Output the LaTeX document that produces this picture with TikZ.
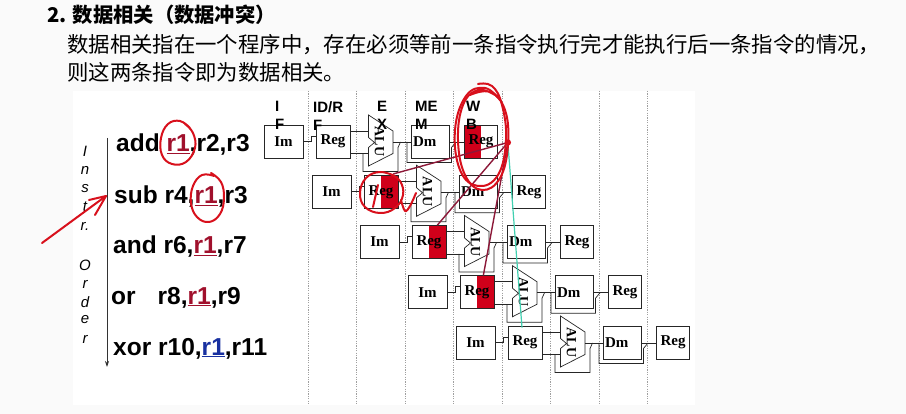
\documentclass[tikz,border=0pt]{standalone}
\usepackage{fontspec}
\setmainfont{Liberation Serif}
\newfontfamily\arial{Liberation Sans}
\newfontfamily\cjk{Noto Sans CJK SC}
\usetikzlibrary{calc,arrows.meta}
\definecolor{maroon}{HTML}{8C1838}
\definecolor{pen}{HTML}{D8101C}
\definecolor{regred}{HTML}{D0001A}
\definecolor{ulred}{HTML}{A0102C}
\definecolor{ulblue}{HTML}{1830A0}
\definecolor{tealline}{HTML}{40D0B0}
\definecolor{bg}{HTML}{FAFAFA}
\begin{document}
\begin{tikzpicture}[x=1pt,y=-1pt,
  box/.style={draw=black!85, line width=0.7pt, inner sep=0pt, font=\fontsize{15}{16}\selectfont\bfseries},
  wire/.style={draw=black!85, line width=0.7pt},
  stagecol/.style={draw=gray!75, line width=0.6pt, dash pattern=on 1.2pt off 1.2pt},
  instr/.style={anchor=west, inner sep=0pt, font=\arial\fontsize{24.5}{26}\selectfont\bfseries},
  ord/.style={inner sep=0pt, font=\arial\fontsize{15}{16}\selectfont\itshape},
  stagelbl/.style={anchor=north west, inner sep=0pt, align=left, font=\arial\fontsize{15}{18}\selectfont\bfseries},
  alutext/.style={inner sep=0pt, rotate=-90, font=\fontsize{14}{15}\selectfont\bfseries},
  pencil/.style={draw=pen, line width=2pt, line cap=round, line join=round},
  fwdline/.style={draw=maroon, line width=1.4pt},
]
\useasboundingbox (0,0) rectangle (906,414);
\fill[bg] (0,0) rectangle (906,414);
\fill[white] (73,91) rectangle (695,405);

% header
\node[anchor=west, inner sep=0pt, font=\cjk\bfseries\fontsize{20.3}{22}\selectfont] (title) at (47,15) {2. 数据相关（数据冲突）};
\node[anchor=west, inner sep=0pt, font=\cjk\fontsize{21.4}{24}\selectfont] (l1) at (67,45) {数据相关指在一个程序中，存在必须等前一条指令执行完才能执行后一条指令的情况，};
\node[anchor=west, inner sep=0pt, font=\cjk\fontsize{21.4}{24}\selectfont] (l2) at (67,72) {则这两条指令即为数据相关。};

% stage separators
\foreach \k in {0,...,7}{
  \draw[stagecol] ({308+48.5*\k},91) -- ({308+48.5*\k},405);
}

% pipeline rows
\foreach \i in {0,...,4}{
\begin{scope}[shift={({264+48*\i},{125+50.25*\i})}]
  \ifnum\i=0 \fill[regred] (200.5,0) rectangle (217,33); \fi
  \ifnum\i>0 \ifnum\i<4 \fill[regred] (69,0) rectangle (86,33); \fi\fi
  \node[box, minimum width=39pt, minimum height=33pt] (im\i) at (19.5,16.5) {Im};
  \node[box, minimum width=34pt, minimum height=33pt] (id\i) at (69,16.5) {Reg};
  \node[box, text width=34pt, align=left, inner xsep=2pt, minimum height=33pt] (dm\i) at (166,16.5) {Dm};
  \node[box, minimum width=33pt, minimum height=33pt] (wb\i) at (217,16.5) {Reg};
  \coordinate (aina\i) at (104.5,6);
  \coordinate (ainb\i) at (104.5,28.5);
  \coordinate (aout\i) at (129,17);
  \draw[wire] (104.5,-10) -- (129,6) -- (129,28.5) -- (104.5,41) -- (104.5,22.5) -- (110.5,17.5) -- (104.5,12.5) -- cycle;
  \node[alutext] (alu\i) at (115.5,16.5) {ALU};
  \draw[wire] (im\i.east) -- ++(8,0) |- ($(id\i.west)+(0,-5.5)$);
  \draw[wire] (id\i.east |- aina\i) -- (aina\i);
  \draw[wire] (id\i.east |- ainb\i) -- (ainb\i);
  \draw[wire] ($(ainb\i)+(-5.5,0)$) -- ++(0,18) -| (134,22.5) -- (136.5,17);
  \draw[wire] (aout\i) -- (dm\i.west |- aout\i);
  \draw[wire] (143,17) -- (143,37.5) -- (187.5,37.5) -- (187.5,22.5) -- (192,17);
  \draw[wire] (dm\i.east |- aout\i) -- (wb\i.west |- aout\i);
\end{scope}
}

% stage labels
\node[stagelbl] (sIF) at (275,101) {I\\F};
\node[stagelbl] (sID) at (313,101) {ID/R\\F};
\node[stagelbl] (sEX) at (377,101) {E\\X};
\node[stagelbl] (sME) at (415,101) {ME\\M};
\node[stagelbl] (sWB) at (466,101) {W\\B};

% forwarding lines
\coordinate (fwd) at ($(wb0.east)+(10,1)$);
\draw[fwdline] (fwd) -- ($(id1.north east)+(-5,-1)$);
\draw[fwdline] (fwd) -- ($(id2.north east)+(-9,0)$);
\draw[fwdline] (fwd) -- ($(id3.north east)+(-11,0)$);
\draw[tealline, line width=1.2pt] (fwd) -- ($(id4.north)+(-3,2)$);

% instruction list
\coordinate (ordtop) at (107,138);
\coordinate (ordbot) at (107,367);
\draw[black!80, line width=0.8pt, -{Stealth[length=6pt,width=4pt]}] (ordtop) -- (ordbot);
\node[instr] (i0) at (116,145) {add {\color{ulred}\underline{r1}},r2,r3};
\node[instr] (i1) at (114,196.5) {sub r4,{\color{ulred}\underline{r1}},r3};
\node[instr] (i2) at (113,247) {and r6,{\color{ulred}\underline{r1}},r7};
\node[instr] (i3) at (111,297.5) {or\hspace{22pt}r8,{\color{ulred}\underline{r1}},r9};
\node[instr] (i4) at (113,348.5) {xor r10,{\color{ulblue}\underline{r1}},r11};
\foreach \t/\y [count=\n] in {I/151, n/170, s/189, t/207, r./226, O/265, r/284, d/302, e/320, r/339}{
  \node[ord] (o\n) at (85,\y) {\t};
}

% hand-drawn annotations
\draw[pencil] plot[smooth, tension=0.7] coordinates {(190,128) (180,121) (168,124) (161,138) (162,155) (172,164) (186,162) (195,148) (193,133) (185,124)};
\draw[pencil] plot[smooth, tension=0.7] coordinates {(214,176) (202,175) (193,186) (191,203) (197,217) (209,222) (220,214) (224,198) (221,182) (211,173)};
\coordinate (penA) at (42,243);
\coordinate (penB) at (106,196);
\draw[pencil] (penA) -- (penB);
\draw[pencil] (89,200) -- (penB) -- (95,215);
\draw[pencil] plot[smooth, tension=0.7] coordinates {(495,95) (478,90) (463,105) (458,140) (465,175) (482,190) (500,178) (508,145) (505,110) (490,92) (470,95)};
\draw[pencil] plot[smooth, tension=0.7] coordinates {(500,100) (485,88) (466,96) (455,130) (460,170) (478,186) (498,175) (506,140) (502,105) (492,86) (478,84)};
\draw[pencil] plot[smooth, tension=0.7] coordinates {(395,176) (380,172) (366,178) (360,193) (365,207) (380,213) (395,208) (403,195) (400,181) (390,174)};
\draw[pencil] plot[smooth, tension=0.6] coordinates {(401,200) (405,211) (410,206) (416,193)};
\draw[pencil] (378,185) -- (373,207);
\fill[pen] (fwd) circle[radius=3.2pt];
\end{tikzpicture}
\end{document}
